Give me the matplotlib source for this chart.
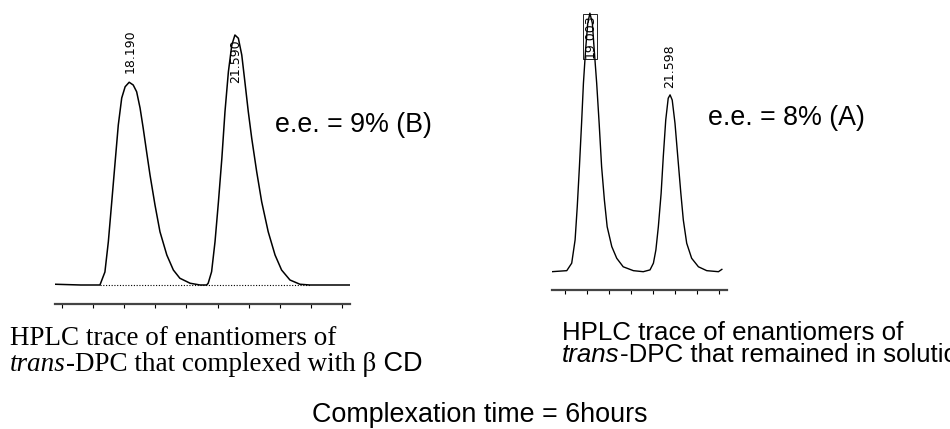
import matplotlib
matplotlib.use("Agg")
import matplotlib.pyplot as plt

# HPLC trace, complexed with beta CD (left panel), minutes / relative signal
left_time = [15.78, 16.60, 17.22, 17.38, 17.49, 17.60, 17.70, 17.81, 17.92, 18.03, 18.16,
             18.29, 18.40, 18.51, 18.61, 18.72, 18.83, 18.99, 19.15, 19.37, 19.58, 19.79,
             20.12, 20.44, 20.65, 20.70, 20.81, 20.92, 21.03, 21.14, 21.24, 21.35, 21.46,
             21.56, 21.67, 21.78, 21.88, 21.99, 22.10, 22.26, 22.42, 22.63, 22.85, 23.06,
             23.33, 23.65, 23.97, 25.26]
left_signal = [0.3, 0.0, 0.0, 5.2, 17.3, 33.3, 48.0, 64.0, 74.8, 79.3, 81.1,
               80.0, 77.3, 70.8, 62.8, 53.3, 44.0, 32.0, 21.3, 12.0, 6.0, 2.7,
               0.7, 0.0, 0.0, 0.7, 5.3, 17.3, 33.3, 50.7, 69.3, 85.3, 96.0,
               100.0, 98.7, 92.0, 81.3, 69.3, 58.7, 45.3, 33.3, 21.3, 12.0, 6.0,
               2.0, 0.3, 0.0, 0.0]
left_baseline = [17.22, 23.97]
left_ticks = [16, 17, 18, 19, 20, 21, 22, 23, 24, 25]
left_peaks = ["18.190", "21.590"]
left_peak_time = [18.19, 21.59]

# HPLC trace, remained in solution (right panel)
right_time = [17.76, 18.25, 18.41, 18.52, 18.59, 18.66, 18.73, 18.79, 18.86, 18.93,
              19.00, 19.08, 19.14, 19.22, 19.30, 19.38, 19.47, 19.56, 19.71, 19.87,
              20.08, 20.41, 20.73, 20.95, 21.06, 21.14, 21.22, 21.31, 21.38, 21.46,
              21.54, 21.60, 21.67, 21.76, 21.85, 21.95, 22.03, 22.14, 22.30, 22.52,
              22.79, 23.17, 23.28]
right_signal = [0.0, 0.4, 3.3, 12.3, 25.2, 40.6, 57.4, 72.9, 85.8, 96.1,
                100.0, 96.1, 85.8, 72.9, 57.4, 40.6, 27.7, 17.4, 9.7, 5.2,
                1.9, 0.4, 0.0, 0.7, 3.3, 8.4, 17.4, 30.3, 44.5, 58.7,
                67.1, 68.4, 66.4, 57.4, 44.5, 30.3, 20.0, 11.0, 5.2, 1.9,
                0.4, 0.0, 0.9]
right_ticks = [18.19, 18.91, 19.62, 20.33, 21.05, 21.76, 22.47, 23.19]
right_peaks = ["19.003", "21.598"]
right_peak_time = [19.003, 21.598]

W, H = 950, 429
fig = plt.figure(figsize=(9.5, 4.29), dpi=100)


def fx(px):
    return px / W


def fy(py):
    return 1 - py / H


def chrom_axes(x0, x1, y_axis, y_top):
    ax = fig.add_axes([fx(x0), fy(y_axis), (x1 - x0) / W, (y_axis - y_top) / H])
    for s in ["top", "left", "right"]:
        ax.spines[s].set_visible(False)
    ax.spines["bottom"].set_color("#444444")
    ax.spines["bottom"].set_linewidth(1.6)
    ax.tick_params(axis="x", direction="out", length=3, width=0.8, labelbottom=False)
    ax.set_yticks([])
    ax.patch.set_alpha(0)
    return ax


# --- left panel ---
ax1 = chrom_axes(55, 350, 304, 20)
ax1.plot(left_time, left_signal, color="black", lw=1.1)
ax1.plot(left_baseline, [0, 0], color="black", lw=0.8, ls=(0, (1, 1.5)))
ax1.set_xlim(15.775, 25.26)
ax1.set_ylim(-7.6, 106)
ax1.set_xticks(left_ticks)
for lab, t, yb in zip(left_peaks, left_peak_time, [84.8, 80.8]):
    ax1.text(t, yb, lab, rotation=90, ha="center", va="bottom", fontsize=9,
             family="DejaVu Sans")

# --- right panel ---
ax2 = chrom_axes(551.7, 726.7, 290, 0)
ax2.plot(right_time, right_signal, color="black", lw=1.0)
ax2.set_xlim(17.761, 23.437)
ax2.set_ylim(-7.08, 105.1)
ax2.set_xticks(right_ticks)
ax2.text(right_peak_time[0], 82.7, right_peaks[0], rotation=90, ha="center", va="bottom",
         fontsize=9, family="DejaVu Sans",
         bbox=dict(boxstyle="square,pad=0.05", fc="none", ec="black", lw=0.6))
ax2.text(right_peak_time[1], 71.1, right_peaks[1], rotation=90, ha="center", va="bottom",
         fontsize=9, family="DejaVu Sans")

# --- annotations ---
sans = "Liberation Sans"
serif = "Liberation Serif"
fig.text(fx(275), fy(132), "e.e. = 9% (B)", fontsize=19.3, family=sans, va="baseline")
fig.text(fx(708), fy(125), "e.e. = 8% (A)", fontsize=19.3, family=sans, va="baseline")

renderer = fig.canvas.get_renderer()


def text_run(x_px, y_px, pieces):
    # pieces: (string, family, style, size)
    x = x_px
    for s, fam, sty, size in pieces:
        t = fig.text(fx(x), fy(y_px), s, family=fam, style=sty, fontsize=size, va="baseline")
        x = t.get_window_extent(renderer).x1


text_run(10, 345, [("HPLC trace of enantiomers of", serif, "normal", 19.5)])
text_run(10, 371, [("trans", serif, "italic", 19.5),
                   ("-DPC that complexed with \u03b2", serif, "normal", 19.5),
                   (" CD", sans, "normal", 19.5)])

text_run(562, 340, [("HPLC trace of enantiomers of", sans, "normal", 18.6)])
text_run(562, 362, [("trans", sans, "italic", 18.6),
                    ("-DPC that remained in solution", sans, "normal", 18.6)])

fig.text(fx(480), fy(422), "Complexation time = 6hours", fontsize=19.4, family=sans,
         ha="center", va="baseline")

fig.savefig("out.png", dpi=100)
